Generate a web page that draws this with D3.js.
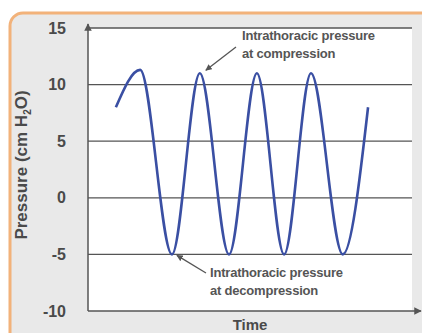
<!DOCTYPE html>
<html><head><meta charset="utf-8">
<script src="https://cdn.jsdelivr.net/npm/d3@7"></script>
<style>body{margin:0;background:#fff;}svg{display:block;}</style>
</head><body>
<script>
// Data
const timePts = [8.5, 15.9, 25.6, 34.1, 43.0, 51.5, 59.8, 68.0, 77.7, 85.4];
const pressure = [8.0, 11.3, -5.0, 11.0, -5.0, 11.0, -5.0, 11.0, -5.0, 8.0];
const yTicks = [15, 10, 5, 0, -5, -10];
const gridVals = [15, 10, 5, 0, -5];
const annotations = [
  {lines: ["Intrathoracic pressure", "at compression"], tIdx: 3},
  {lines: ["Intrathoracic pressure", "at decompression"], tIdx: 2}
];

const W = 422, H = 333;
const FONT = "Liberation Sans, Arial, sans-serif";
const svg = d3.select("body").append("svg").attr("width", W).attr("height", H);

// frame
svg.append("rect").attr("x", 10).attr("y", 13).attr("width", 430).attr("height", 340)
  .attr("rx", 13).attr("fill", "#e9e9e9").attr("stroke", "#f2b27a").attr("stroke-width", 3);

const x = d3.scaleLinear().domain([0, 98.8]).range([88, 412]);
const y = d3.scaleLinear().domain([-10, 15]).range([311, 28]);

svg.append("rect").attr("x", x(0)).attr("y", y(15)).attr("width", x(98.8) - x(0))
  .attr("height", y(-10) - y(15)).attr("fill", "#fff");

const defs = svg.append("defs");
defs.append("marker").attr("id", "ah").attr("viewBox", "0 0 10 10").attr("refX", 9).attr("refY", 5)
  .attr("markerWidth", 5).attr("markerHeight", 5).attr("orient", "auto")
  .append("path").attr("d", "M0,0L10,5L0,10z").attr("fill", "#555");
defs.append("marker").attr("id", "ahs").attr("viewBox", "0 0 10 10").attr("refX", 9).attr("refY", 5)
  .attr("markerWidth", 5).attr("markerHeight", 5).attr("orient", "auto")
  .append("path").attr("d", "M0,0L10,5L0,10z").attr("fill", "#555");

// gridlines
svg.selectAll("line.grid").data(gridVals).join("line").attr("class", "grid")
  .attr("x1", x(0)).attr("x2", x(98.8)).attr("y1", d => y(d)).attr("y2", d => y(d))
  .attr("stroke", "#555").attr("stroke-width", 1.3);

// axes
const yAxis = d3.axisLeft(y).tickValues(yTicks).tickSize(0).tickPadding(22).tickFormat(d => String(d));
const gy = svg.append("g").attr("transform", `translate(${x(0)},0)`).call(yAxis);
gy.select(".domain").remove();
gy.selectAll("text").attr("font-family", FONT)
  .attr("font-weight", "bold").attr("font-size", 16).attr("fill", "#4a4a4a");

svg.append("line").attr("x1", x(0)).attr("x2", x(0)).attr("y1", y(-10)).attr("y2", y(15) - 4)
  .attr("stroke", "#555").attr("stroke-width", 1.5).attr("marker-end", "url(#ah)");
svg.append("line").attr("x1", x(0)).attr("x2", 421).attr("y1", y(-10)).attr("y2", y(-10))
  .attr("stroke", "#555").attr("stroke-width", 1.5).attr("marker-end", "url(#ah)");

// curve
const data = timePts.map((t, i) => ({t, v: pressure[i]}));
const line = d3.line().x(d => x(d.t)).y(d => y(d.v)).curve(d3.curveMonotoneX);
svg.append("path").datum(data).attr("d", line).attr("fill", "none")
  .attr("stroke", "#3a4fa3").attr("stroke-width", 2.6);

// labels
svg.append("text").attr("transform", "translate(27,165) rotate(-90)").attr("text-anchor", "middle")
  .attr("font-family", FONT).attr("font-weight", "bold")
  .attr("font-size", 17).attr("fill", "#4a4a4a")
  .html('Pressure (cm H<tspan font-size="10" dy="4">2</tspan><tspan dy="-4">O)</tspan>');
svg.append("text").attr("x", 250).attr("y", 330).attr("text-anchor", "middle")
  .attr("font-family", FONT).attr("font-weight", "bold")
  .attr("font-size", 15).attr("fill", "#4a4a4a").text("Time");

// annotations
const a1 = annotations[0], a2 = annotations[1];
const t1 = svg.append("text").attr("font-family", FONT)
  .attr("font-weight", "bold").attr("font-size", 13).attr("fill", "#555").attr("letter-spacing", -0.2);
a1.lines.forEach((s, i) => t1.append("tspan").attr("x", 242).attr("y", 40 + i * 18).text(s));
svg.append("line").attr("x1", 236).attr("y1", 47)
  .attr("x2", x(timePts[a1.tIdx]) + 6).attr("y2", y(pressure[a1.tIdx]) - 3)
  .attr("stroke", "#555").attr("stroke-width", 1.3).attr("marker-end", "url(#ahs)");

const t2 = svg.append("text").attr("font-family", FONT)
  .attr("font-weight", "bold").attr("font-size", 13).attr("fill", "#555").attr("letter-spacing", -0.2);
a2.lines.forEach((s, i) => t2.append("tspan").attr("x", 210).attr("y", 277 + i * 18).text(s));
svg.append("line").attr("x1", 206).attr("y1", 273)
  .attr("x2", x(timePts[a2.tIdx]) + 5).attr("y2", y(pressure[a2.tIdx]) + 1)
  .attr("stroke", "#555").attr("stroke-width", 1.3).attr("marker-end", "url(#ahs)");
</script>
</body></html>
